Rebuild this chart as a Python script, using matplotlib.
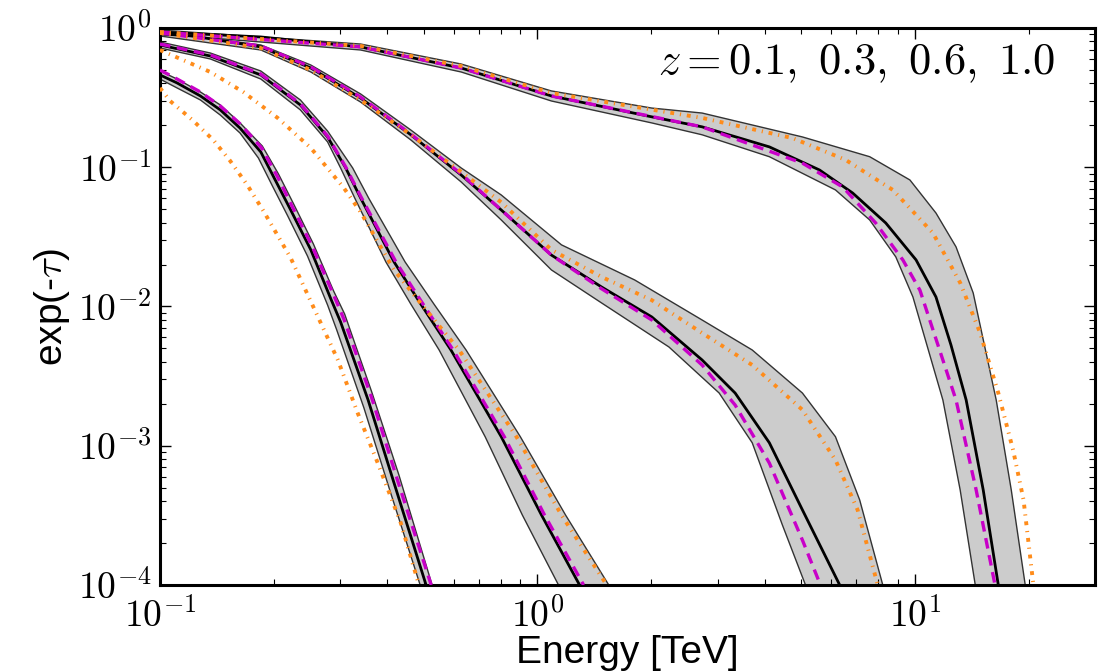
import math
import matplotlib
matplotlib.use("Agg")
import matplotlib.pyplot as plt
from matplotlib.ticker import LogLocator, FuncFormatter, NullFormatter

plt.rcParams['mathtext.fontset'] = 'cm'

# ---- data: energy [TeV] and exp(-tau) ----
# z = 0.1
e01_mid = [0.100, 0.185, 0.340, 0.628, 1.089, 2.009, 2.73, 4.115, 5.59, 6.84, 8.37, 10.07, 11.37, 12.46, 13.67, 15.17, 16.63]
t01_mid = [0.936, 0.862, 0.731, 0.516, 0.325, 0.230, 0.195, 0.140, 0.0955, 0.0653, 0.0398, 0.0216, 0.0117, 0.00529, 0.00213, 0.000481, 0.0001]
e01_up = [0.1, 0.340, 0.628, 1.089, 2.009, 2.73, 5.035, 7.59, 9.70, 11.37, 12.85, 14.27, 16.42, 18.0, 19.6]
t01_up = [0.967, 0.767, 0.551, 0.353, 0.266, 0.245, 0.165, 0.119, 0.0810, 0.0469, 0.0268, 0.0125, 0.00213, 0.000481, 0.0001]
e01_lo = [0.1, 0.340, 0.628, 1.089, 2.009, 2.73, 4.115, 6.16, 7.59, 8.90, 9.88, 11.86, 13.18, 14.45]
t01_lo = [0.906, 0.695, 0.483, 0.299, 0.208, 0.171, 0.119, 0.0687, 0.0418, 0.0227, 0.0117, 0.00213, 0.000481, 0.0001]
e01_mag = [0.1, 0.340, 0.628, 1.089, 2.73, 5.035, 6.44, 7.87, 9.29, 10.31, 12.85, 14.53, 16.3]
t01_mag = [0.936, 0.731, 0.516, 0.325, 0.195, 0.107, 0.0721, 0.0398, 0.0216, 0.0131, 0.00213, 0.000481, 0.0001]
e01_ora = [0.1, 0.340, 0.628, 1.089, 2.73, 4.737, 6.55, 8.74, 11.16, 13.18, 14.89, 16.63, 18.2, 19.4, 20.6]
t01_ora = [0.936, 0.743, 0.533, 0.341, 0.226, 0.162, 0.113, 0.0687, 0.0337, 0.0148, 0.00645, 0.00239, 0.000932, 0.000408, 0.0001]

# z = 0.3
e03_mid = [0.1, 0.122, 0.185, 0.251, 0.340, 0.462, 0.628, 0.802, 1.089, 1.479, 2.009, 2.73, 3.34, 4.115, 5.035, 6.32]
t03_mid = [0.906, 0.876, 0.731, 0.516, 0.314, 0.171, 0.0880, 0.0493, 0.0234, 0.0138, 0.00841, 0.00413, 0.00239, 0.00105, 0.000346, 0.0001]
e03_up = [0.1, 0.185, 0.251, 0.340, 0.462, 0.628, 0.802, 1.158, 1.81, 2.73, 3.707, 5.035, 6.16, 7.14, 8.22]
t03_up = [0.936, 0.755, 0.542, 0.336, 0.185, 0.0988, 0.0632, 0.0277, 0.0155, 0.0080, 0.00487, 0.00239, 0.00116, 0.000408, 0.0001]
e03_lo = [0.1, 0.185, 0.251, 0.340, 0.462, 0.628, 0.802, 1.089, 1.479, 2.23, 3.03, 3.707, 4.455, 5.13]
t03_lo = [0.876, 0.695, 0.483, 0.294, 0.157, 0.0784, 0.0418, 0.0183, 0.0106, 0.00512, 0.00239, 0.00105, 0.00027, 0.0001]
e03_mag = [0.1, 0.185, 0.251, 0.340, 0.462, 0.628, 0.802, 1.089, 1.479, 2.009, 2.73, 3.34, 4.115, 5.035, 5.62]
t03_mag = [0.921, 0.743, 0.525, 0.319, 0.173, 0.0895, 0.0493, 0.0234, 0.0134, 0.0080, 0.0038, 0.00196, 0.000751, 0.000210, 0.0001]
e03_ora = [0.1, 0.185, 0.251, 0.340, 0.462, 0.628, 0.802, 1.089, 1.479, 2.009, 2.73, 3.707, 5.035, 6.16, 7.05, 7.97]
t03_ora = [0.921, 0.718, 0.499, 0.304, 0.171, 0.0925, 0.0560, 0.0255, 0.0163, 0.0111, 0.00645, 0.0038, 0.00181, 0.00079, 0.000346, 0.0001]

# z = 0.6
e06_mid = [0.1, 0.136, 0.185, 0.2355, 0.278, 0.3105, 0.340, 0.417, 0.491, 0.590, 0.802, 1.025, 1.293]
t06_mid = [0.755, 0.629, 0.460, 0.280, 0.165, 0.0988, 0.0602, 0.0209, 0.0104, 0.00487, 0.00116, 0.000318, 0.0001]
e06_up = [0.1, 0.136, 0.185, 0.2355, 0.278, 0.324, 0.357, 0.446, 0.532, 0.647, 0.901, 1.187, 1.545]
t06_up = [0.793, 0.661, 0.491, 0.304, 0.182, 0.0988, 0.0602, 0.0209, 0.0104, 0.00487, 0.00116, 0.000318, 0.0001]
e06_lo = [0.1, 0.136, 0.185, 0.2355, 0.278, 0.301, 0.328, 0.3967, 0.462, 0.549, 0.727, 0.912, 1.137]
t06_lo = [0.718, 0.599, 0.430, 0.258, 0.152, 0.0988, 0.0602, 0.0209, 0.0104, 0.00487, 0.00116, 0.000318, 0.0001]
e06_mag = [0.1, 0.136, 0.185, 0.2355, 0.278, 0.3105, 0.342, 0.4217, 0.4977, 0.598, 0.817, 1.044, 1.325]
t06_mag = [0.767, 0.640, 0.467, 0.285, 0.1676, 0.1004, 0.0602, 0.0209, 0.0104, 0.00487, 0.00116, 0.000318, 0.0001]
e06_ora = [0.1, 0.136, 0.1662, 0.205, 0.251, 0.307, 0.340, 0.417, 0.507, 0.620, 0.880, 1.158, 1.526]
t06_ora = [0.695, 0.483, 0.347, 0.226, 0.1375, 0.0710, 0.0477, 0.0183, 0.00944, 0.00487, 0.00116, 0.000318, 0.0001]

# z = 1.0
e10_mid = [0.1, 0.111, 0.128, 0.1445, 0.163, 0.185, 0.202, 0.222, 0.251, 0.283, 0.301, 0.356, 0.417, 0.507]
t10_mid = [0.460, 0.403, 0.325, 0.258, 0.191, 0.1287, 0.0810, 0.0493, 0.0255, 0.0115, 0.00774, 0.00213, 0.000540, 0.0001]
e10_up = [0.1, 0.111, 0.128, 0.1445, 0.163, 0.1867, 0.206, 0.226, 0.255, 0.2885, 0.3085, 0.364, 0.4296, 0.526]
t10_up = [0.491, 0.430, 0.347, 0.280, 0.208, 0.142, 0.0895, 0.0545, 0.0281, 0.0129, 0.00883, 0.00243, 0.000616, 0.0001]
e10_lo = [0.1, 0.111, 0.128, 0.1445, 0.163, 0.1823, 0.1986, 0.218, 0.246, 0.278, 0.294, 0.347, 0.407, 0.489]
t10_lo = [0.430, 0.371, 0.304, 0.237, 0.176, 0.1165, 0.0733, 0.0447, 0.0230, 0.01025, 0.00678, 0.00187, 0.000473, 0.0001]
e10_mag = [0.1, 0.111, 0.128, 0.1445, 0.163, 0.186, 0.205, 0.2244, 0.2535, 0.2885, 0.307, 0.364, 0.4266, 0.523]
t10_mag = [0.499, 0.430, 0.347, 0.275, 0.205, 0.1375, 0.0851, 0.0518, 0.0268, 0.0121, 0.00813, 0.0022, 0.000558, 0.0001]
e10_ora = [0.1, 0.1064, 0.122, 0.1384, 0.1535, 0.1703, 0.188, 0.222, 0.255, 0.296, 0.334, 0.3776, 0.4345, 0.4855]
t10_ora = [0.371, 0.299, 0.218, 0.157, 0.111, 0.0746, 0.0485, 0.0223, 0.0099, 0.00413, 0.00172, 0.000751, 0.000279, 0.0001]

redshift_label = r'$z = 0.1,\ 0.3,\ 0.6,\ 1.0$'

curves = [
    (e01_mid, t01_mid, e01_up, t01_up, e01_lo, t01_lo, e01_mag, t01_mag, e01_ora, t01_ora),
    (e03_mid, t03_mid, e03_up, t03_up, e03_lo, t03_lo, e03_mag, t03_mag, e03_ora, t03_ora),
    (e06_mid, t06_mid, e06_up, t06_up, e06_lo, t06_lo, e06_mag, t06_mag, e06_ora, t06_ora),
    (e10_mid, t10_mid, e10_up, t10_up, e10_lo, t10_lo, e10_mag, t10_mag, e10_ora, t10_ora),
]

fig = plt.figure(figsize=(11.1, 6.71), dpi=100)
ax = fig.add_axes([0.1441, 0.1282, 0.8424, 0.8301])

for em, tm, eu, tu, el, tl, eg, tg, eo, to in curves:
    # grey uncertainty band with thin outline
    ax.fill(eu + el[::-1], tu + tl[::-1], color='#cccccc', lw=0, zorder=1)
    ax.plot(eu, tu, color='#333333', lw=1.0, zorder=2)
    ax.plot(el, tl, color='#333333', lw=1.0, zorder=2)
    ax.plot(em, tm, color='black', lw=2.0, zorder=3)
    ax.plot(eg, tg, color='#c800c8', lw=2.4, ls=(0, (3.2, 2.0)), zorder=4)
    ax.plot(eo, to, color='#ff8c1a', lw=2.8, ls=(0, (1.0, 1.5, 0.3, 1.5)), zorder=5)

ax.set_xscale('log')
ax.set_yscale('log')
ax.set_xlim(0.1, 30)
ax.set_ylim(1e-4, 1)

fmt = FuncFormatter(lambda v, p: r'$10^{%d}$' % round(math.log10(v)))
ax.xaxis.set_major_locator(LogLocator(base=10, numticks=10))
ax.yaxis.set_major_locator(LogLocator(base=10, numticks=10))
ax.xaxis.set_minor_locator(LogLocator(base=10, subs=range(2, 10), numticks=20))
ax.yaxis.set_minor_locator(LogLocator(base=10, subs=range(2, 10), numticks=20))
ax.xaxis.set_major_formatter(fmt)
ax.yaxis.set_major_formatter(fmt)
ax.xaxis.set_minor_formatter(NullFormatter())
ax.yaxis.set_minor_formatter(NullFormatter())

ax.tick_params(which='both', direction='in', top=True, right=True, labelsize=27, colors='black')
ax.tick_params(which='major', length=8, width=1.0)
ax.tick_params(which='minor', length=4, width=0.8)
ax.tick_params(axis='x', which='major', pad=10)
ax.tick_params(axis='y', which='major', pad=6)
for s in ax.spines.values():
    s.set_linewidth(2.2)

ax.set_xlabel('Energy [TeV]', fontsize=28, family='Liberation Sans', labelpad=0)
ax.set_ylabel(r'exp(-$\tau$)', fontsize=28, family='Liberation Sans', labelpad=4)

ax.text(0.958, 0.975, redshift_label, transform=ax.transAxes, ha='right', va='top', fontsize=32)

fig.savefig('out.png', dpi=100)
